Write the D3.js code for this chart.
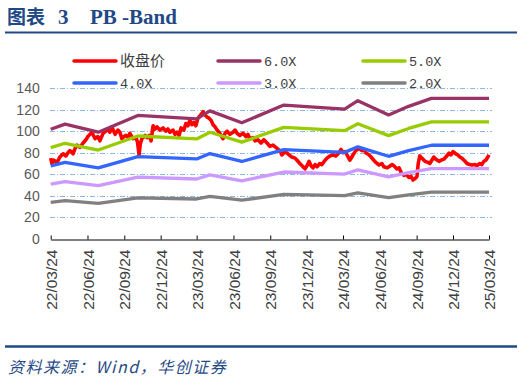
<!DOCTYPE html>
<html>
<head>
<meta charset="utf-8">
<script src="https://cdn.jsdelivr.net/npm/d3@7"></script>
<style>
  body { margin: 0; background: #fff; }
  svg { display: block; }
</style>
</head>
<body>
<div id="graf"></div>
<script>
// datos: precio de cierre (收盘价)
const priceDates = [
  "2022-03-24","2022-03-27","2022-04-01","2022-04-09","2022-04-16","2022-04-24","2022-05-01","2022-05-06",
  "2022-05-11","2022-05-19","2022-05-24","2022-05-29","2022-06-05","2022-06-13","2022-06-20","2022-06-25",
  "2022-06-30","2022-07-05","2022-07-13","2022-07-20","2022-07-25","2022-08-02","2022-08-09","2022-08-14",
  "2022-08-19","2022-08-24","2022-09-01","2022-09-08","2022-09-13","2022-09-18","2022-09-23","2022-09-28",
  "2022-10-03","2022-10-08","2022-10-16","2022-10-23","2022-10-27","2022-10-31","2022-11-03","2022-11-07",
  "2022-11-15","2022-11-20","2022-11-25","2022-11-30","2022-12-05","2022-12-10","2022-12-15","2022-12-22",
  "2022-12-30","2023-01-06","2023-01-11","2023-01-16","2023-01-24","2023-01-29","2023-02-03","2023-02-08",
  "2023-02-13","2023-02-20","2023-02-25","2023-03-02","2023-03-07","2023-03-12","2023-03-17","2023-03-22",
  "2023-03-27","2023-04-01","2023-04-09","2023-04-14","2023-04-19","2023-04-24","2023-04-29","2023-05-04",
  "2023-05-09","2023-05-14","2023-05-19","2023-05-24","2023-05-29","2023-06-03","2023-06-08","2023-06-15",
  "2023-06-23","2023-06-28","2023-07-03","2023-07-10","2023-07-18","2023-07-25","2023-07-30","2023-08-04",
  "2023-08-12","2023-08-17","2023-08-24","2023-09-01","2023-09-08","2023-09-16","2023-09-23","2023-10-01",
  "2023-10-11","2023-10-18","2023-10-23","2023-10-31","2023-11-07","2023-11-17","2023-11-25","2023-11-30",
  "2023-12-07","2023-12-15","2023-12-20","2023-12-25","2023-12-30","2024-01-04","2024-01-09","2024-01-14",
  "2024-01-19","2024-01-26","2024-01-31","2024-02-08","2024-02-13","2024-02-20","2024-02-28","2024-03-06",
  "2024-03-14","2024-03-19","2024-03-24","2024-03-29","2024-04-03","2024-04-10","2024-04-15","2024-04-23",
  "2024-04-28","2024-05-03","2024-05-10","2024-05-15","2024-05-20","2024-05-28","2024-06-02","2024-06-09",
  "2024-06-14","2024-06-22","2024-06-29","2024-07-04","2024-07-12","2024-07-17","2024-07-24","2024-07-29",
  "2024-08-06","2024-08-11","2024-08-16","2024-08-23","2024-08-28","2024-09-05","2024-09-10","2024-09-15",
  "2024-09-20","2024-09-25","2024-09-28","2024-10-02","2024-10-07","2024-10-15","2024-10-22","2024-10-27",
  "2024-11-01","2024-11-06","2024-11-11","2024-11-19","2024-11-24","2024-12-01","2024-12-06","2024-12-14",
  "2024-12-19","2024-12-24","2024-12-31","2025-01-05","2025-01-10","2025-01-15","2025-01-23","2025-01-28",
  "2025-02-04","2025-02-09","2025-02-17","2025-02-22","2025-03-01","2025-03-06","2025-03-11","2025-03-16",
  "2025-03-21","2025-03-24"
];
const priceValues = [
  75,70,73,71,76,79,77,80,
  82,79,84,87,85,89,92,95,
  97,99,93,95,91,98,100,102,
  99,104,97,101,99,93,95,96,
  94,98,93,94,90,78,88,93,
  96,94,96,91,105,102,104,101,
  103,100,102,99,101,97,99,96,
  103,101,107,105,110,106,108,105,
  112,114,118,115,113,112,110,106,
  104,101,99,96,93,98,100,97,
  99,101,98,96,98,95,97,93,
  94,91,92,89,92,89,86,87,
  84,82,78,81,79,76,75,73,
  70,67,65,68,72,68,66,69,
  67,70,69,73,75,77,78,77,
  80,83,80,81,78,73,76,81,
  83,84,82,83,80,78,76,73,
  71,68.6,70,67,66,67,69,68,
  65,66,62,59,60,57,58,54.7,
  56,58,70,77,75,72,71,70,
  73,76,74,72,73,74,76,79.5,
  78,81,79,78,76,75,72,70,
  69,68.6,69,68,70,69,72,73,
  76,78
];

// datos: valor contable por acción (puntos de cambio) y múltiplos PB
const bvpsDates = [
  "2022-03-24","2022-04-29","2022-07-21","2022-10-28","2023-03-24","2023-04-26","2023-07-15",
  "2023-10-28","2024-03-28","2024-04-30","2024-07-16","2024-09-04","2024-10-31","2025-03-24"
];
const bvpsValues = [16.95,17.75,16.5,19.1,18.55,19.8,17.97,20.7,20.08,21.37,19.17,20.5,21.73,21.73];
const multiples = [6, 5, 4, 3, 2];
const bandNames = ["6.0X", "5.0X", "4.0X", "3.0X", "2.0X"];
const bandColors = ["#993366", "#99CC00", "#3366FF", "#CC99FF", "#808080"];

const xTickLabels = ["22/03/24","22/06/24","22/09/24","22/12/24","23/03/24","23/06/24","23/09/24",
  "23/12/24","24/03/24","24/06/24","24/09/24","24/12/24","25/03/24"];
const yTicks = [0, 20, 40, 60, 80, 100, 120, 140];

const parseDate = d3.timeParse("%Y-%m-%d");
const parseTick = d3.timeParse("%y/%m/%d");

const anchoTotal = 524, altoTotal = 381;
const svg = d3.select("#graf").append("svg")
  .attr("width", anchoTotal).attr("height", altoTotal);

// Título
const titulo = svg.append("text")
  .attr("x", 7).attr("y", 24)
  .attr("fill", "#1F4A86")
  .attr("font-weight", "bold");
titulo.append("tspan").attr("font-family", "'Noto Sans CJK SC'").attr("font-size", 19).text("图表");
titulo.append("tspan").attr("font-family", "'Liberation Serif'").attr("font-size", 21).attr("x", 58).text("3");
titulo.append("tspan").attr("font-family", "'Liberation Serif'").attr("font-size", 21).attr("x", 90).text("PB -Band");

svg.append("line").attr("x1", 5).attr("x2", 517).attr("y1", 32.5).attr("y2", 32.5)
  .attr("stroke", "#1F4A86").attr("stroke-width", 2);
svg.append("line").attr("x1", 5).attr("x2", 517).attr("y1", 346.5).attr("y2", 346.5)
  .attr("stroke", "#1F4A86").attr("stroke-width", 2.5);

svg.append("text")
  .attr("x", 8).attr("y", 373)
  .attr("fill", "#1F4A86")
  .attr("font-family", "'Noto Sans CJK SC'")
  .attr("font-style", "italic")
  .attr("font-size", 16)
  .attr("letter-spacing", 1.5)
  .text("资料来源：Wind，华创证券");

// Escaladores
const x = d3.scaleTime()
  .domain([parseDate("2022-03-24"), parseDate("2025-03-24")])
  .range([50.7, 489]);
const y = d3.scaleLinear().domain([0, 140]).range([239, 88]);

// Rejilla
svg.append("g").selectAll("line")
  .data(yTicks.filter(d => d > 0))
  .join("line")
  .attr("x1", 50).attr("x2", 492)
  .attr("y1", d => Math.round(y(d)) + 0.5).attr("y2", d => Math.round(y(d)) + 0.5)
  .attr("stroke", "#8FB8E6")
  .attr("stroke-width", 1)
  .attr("stroke-dasharray", "5,2,1,2");

// Ejes
const xAxis = d3.axisBottom(x)
  .tickValues(xTickLabels.map(parseTick))
  .tickSizeInner(-4).tickSizeOuter(0)
  .tickFormat(d3.timeFormat("%y/%m/%d"));
const xg = svg.append("g")
  .attr("transform", `translate(0, ${Math.round(y(0)) + 0.5})`)
  .call(xAxis);
xg.select(".domain").attr("stroke", "#000");
xg.selectAll(".tick line").attr("stroke", "#000");
xg.selectAll("text")
  .attr("font-family", "'Liberation Sans', Arial")
  .attr("font-size", 15.5)
  .attr("fill", "#404040")
  .attr("text-anchor", "end")
  .attr("transform", "rotate(-90)")
  .attr("x", -10).attr("y", 0).attr("dy", "0.36em");

const yAxis = d3.axisLeft(y).tickValues(yTicks).tickSize(0).tickPadding(11);
const yg = svg.append("g").attr("transform", "translate(50.7, 0)").call(yAxis);
yg.select(".domain").remove();
yg.selectAll("text")
  .attr("font-family", "'Liberation Sans', Arial")
  .attr("font-size", 14)
  .attr("fill", "#595959");

// Series
const priceData = priceDates.map((d, i) => ({ date: parseDate(d), v: priceValues[i] }));
const bvpsData = bvpsDates.map((d, i) => ({ date: parseDate(d), v: bvpsValues[i] }));

const linea = d3.line().x(d => x(d.date)).y(d => y(d.v));

svg.append("path")
  .datum(priceData)
  .attr("d", linea)
  .attr("fill", "none")
  .attr("stroke", "#FF0000")
  .attr("stroke-width", 3.6)
  .attr("stroke-linejoin", "round");

multiples.forEach((m, i) => {
  svg.append("path")
    .datum(bvpsData.map(d => ({ date: d.date, v: d.v * m })))
    .attr("d", linea)
    .attr("fill", "none")
    .attr("stroke", bandColors[i])
    .attr("stroke-width", 3.3)
    .attr("stroke-linejoin", "round");
});

// Leyenda
const leyenda = [{ name: "收盘价", color: "#FF0000" }]
  .concat(bandNames.map((n, i) => ({ name: n, color: bandColors[i] })));
const colX = [74, 218, 363];
const rowY = [61, 83];
leyenda.forEach((d, i) => {
  const lx = colX[i % 3], ly = rowY[Math.floor(i / 3)];
  svg.append("line")
    .attr("x1", lx).attr("x2", lx + 42).attr("y1", ly).attr("y2", ly)
    .attr("stroke", d.color).attr("stroke-width", 3.5).attr("stroke-linecap", "round");
  svg.append("text")
    .attr("x", lx + 46).attr("y", ly).attr("dy", "0.36em")
    .attr("font-family", i === 0 ? "'Noto Sans CJK SC'" : "'Liberation Mono'")
    .attr("font-size", i === 0 ? 15 : 13.5)
    .attr("fill", "#404040")
    .text(d.name);
});
</script>
</body>
</html>
